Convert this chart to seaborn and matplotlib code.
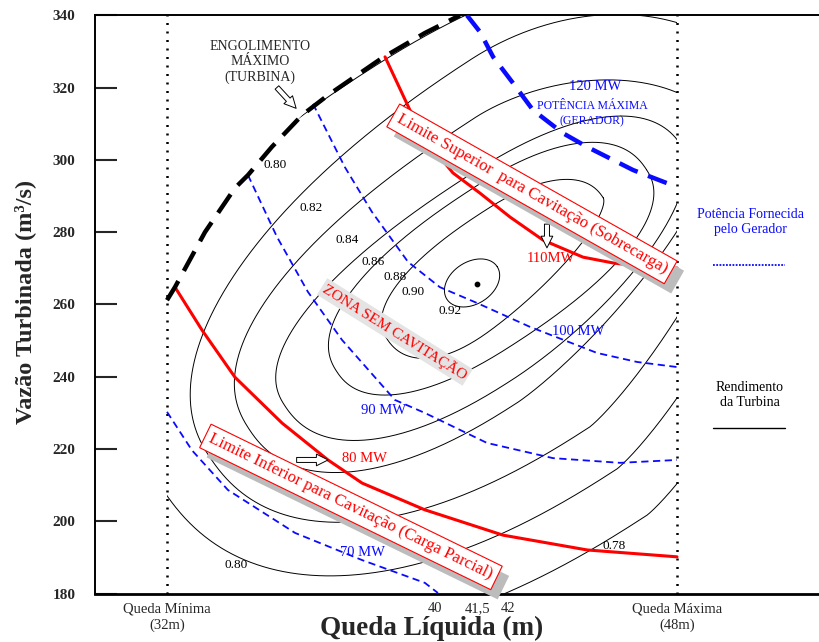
import numpy as np
import pandas as pd
import matplotlib
matplotlib.use("Agg")
import matplotlib.pyplot as plt
import matplotlib.patheffects as pe
from matplotlib.patches import Polygon
import seaborn as sns

sns.set_theme(style="white")
plt.rcParams["font.family"] = ["Liberation Serif", "DejaVu Serif"]

# ---------------- data (Queda H in m, Vazao Q in m3/s) ----------------
ENGOL_H = [32.00, 32.25, 33.19, 34.13, 34.54, 35.29, 36.24, 37.05, 38.75, 40.09, 41.19]
ENGOL_Q = [261.2, 264.8, 280.0, 292.2, 295.8, 303.6, 312.4, 317.9, 328.2, 335.1, 340.0]

P120_H = [41.41, 41.82, 42.23, 42.85, 43.48, 44.42, 45.18, 46.62, 48.0]
P120_Q = [340.0, 335.4, 328.5, 321.3, 313.8, 307.4, 303.6, 297.2, 292.5]

P100_H = [36.58, 37.58, 38.43, 39.56, 40.56, 41.73, 43.39, 45.49, 46.75, 48.0]
P100_Q = [315.5, 298.0, 285.6, 271.8, 264.8, 260.4, 253.8, 246.6, 244.1, 242.7]

P90_H = [34.54, 35.45, 36.42, 37.49, 39.15, 40.09, 42.04, 44.11, 46.21, 48.0]
P90_Q = [295.8, 278.7, 263.5, 250.2, 233.6, 230.0, 221.7, 217.5, 216.2, 217.0]

P70_H = [32.0, 32.78, 33.91, 36.02, 38.12, 40.09, 40.50]
P70_Q = [230.3, 219.7, 208.7, 196.8, 189.3, 183.0, 180.2]

LIM_INF_H = [32.25, 33.10, 34.13, 35.61, 37.05, 38.12, 40.09, 42.54, 45.18, 48.0]
LIM_INF_Q = [264.8, 252.9, 239.9, 227.2, 217.0, 210.6, 203.2, 196.2, 192.1, 190.2]

LIM_SUP_H = [38.84, 39.62, 40.25, 40.97, 41.82, 42.76, 43.80, 45.05, 45.99, 46.99, 48.0]
LIM_SUP_Q = [328.5, 313.8, 304.1, 296.4, 290.8, 284.2, 277.8, 273.1, 271.5, 270.4, 270.1]

# efficiency iso-lines (rotated egg shapes): centre, half-lengths (m-equivalent), exponents
ETA_LEVELS = [0.92, 0.90, 0.88, 0.86, 0.84, 0.82, 0.80, 0.78]
ETA_HC = [41.57, 42.29, 42.18, 41.92, 41.92, 42.10, 42.10, 42.10]
ETA_QC = [265.96, 270.04, 269.43, 267.94, 267.94, 269.0, 269.0, 269.0]
ETA_A = [0.94, 4.05, 5.80, 7.44, 8.78, 10.51, 12.30, 14.43]
ETA_BUP = [0.66, 1.69, 2.48, 2.89, 4.30, 5.90, 7.37, 9.10]
ETA_BLO = [0.66, 1.57, 2.32, 3.23, 3.92, 5.80, 7.37, 9.10]
ETA_U0 = [0.0, 0.63, 0.85, 1.25, 2.51, 3.14, 0.0, 0.0]
ETA_L0 = [0.0, -1.57, -0.63, -0.94, -1.25, 0.0, 0.0, 0.0]
ETA_PUL = [2.0, 2.3, 2.3, 2.3, 2.3, 2.15, 2.3, 2.3]
ETA_PUR = [2.0, 2.3, 2.3, 2.3, 1.8, 2.0, 2.3, 2.3]
ETA_PLL = [2.0, 2.3, 2.3, 2.3, 2.3, 2.3, 2.3, 2.3]
ETA_PLR = [2.0, 1.6, 2.3, 1.8, 1.5, 1.3, 1.3, 1.3]
ETA_ANGLE = 33.0

ETA_LABELS = ["0.80", "0.82", "0.84", "0.86", "0.88", "0.90", "0.92", "0.80", "0.78"]
ETA_LAB_H = [35.39, 36.52, 37.65, 38.46, 39.15, 39.72, 40.88, 34.16, 46.02]
ETA_LAB_Q = [298.6, 286.7, 277.8, 271.75, 267.7, 263.46, 258.2, 187.9, 193.2]

OPT_H, OPT_Q = 41.73, 265.67
H_MIN, H_MAX = 32.0, 48.0

XTICK_POS = [32.0, 40.41, 41.73, 42.70, 48.0]
XTICK_LABELS = ["Queda Mínima\n(32m)", "40", "41,5", "42", "Queda Máxima\n(48m)"]
YTICKS = [180, 200, 220, 240, 260, 280, 300, 320, 340]

# ---------------- figure ----------------
W, H = 820, 642
fig = plt.figure(figsize=(W / 100, H / 100), dpi=100)
ax = fig.add_axes([95 / W, 1 - 593.7 / H, (W - 95) / W, (593.7 - 15.3) / H])
ax.set_xlim(29.741, 52.486)
ax.set_ylim(180, 340)
S = (725 / 22.745) / (578.4 / 160)  # Q units per m for isotropic shapes

BLUE = "#0a0aff"
RED = "#ff0000"

clip_verts = [(H_MIN, 180)] + list(zip(ENGOL_H, ENGOL_Q)) + [(H_MAX, 340), (H_MAX, 180)]
clip_poly = Polygon(clip_verts, closed=True, transform=ax.transData)


def egg(i, ang):
    t = np.linspace(0, 2 * np.pi, 1441)
    c, s = np.cos(t), np.sin(t)
    upper = s < 0
    pq = np.where(upper, np.where(c < 0, ETA_PUL[i], ETA_PUR[i]),
                  np.where(c < 0, ETA_PLL[i], ETA_PLR[i]))
    b = np.where(upper, ETA_BUP[i], ETA_BLO[i])
    base = np.where(upper, ETA_U0[i], ETA_L0[i])
    a = ETA_A[i]
    half = np.where(c < 0, a + base, a - base)
    u = base + half * np.sign(c) * np.abs(c) ** (2 / pq)
    v = b * np.sign(s) * np.abs(s) ** (2 / pq)
    th = np.radians(ang)
    hh = ETA_HC[i] + u * np.cos(th) + v * np.sin(th)
    yy = ETA_QC[i] / S + u * np.sin(th) - v * np.cos(th)
    return hh, yy * S


for i in range(len(ETA_LEVELS)):
    hh, qq = egg(i, ETA_ANGLE)
    ln, = ax.plot(hh, qq, color="black", lw=0.7, zorder=2)
    ln.set_clip_path(clip_poly)

for txt, h, q in zip(ETA_LABELS, ETA_LAB_H, ETA_LAB_Q):
    ax.text(h, q, txt, fontsize=9.5, ha="center", va="center", color="black", zorder=6)

ax.scatter([OPT_H], [OPT_Q], s=10, color="black", zorder=6)

# power curves (blue dashed)
curves = pd.DataFrame({
    "H": P100_H + P90_H + P70_H,
    "Q": P100_Q + P90_Q + P70_Q,
    "curve": ["100"] * len(P100_H) + ["90"] * len(P90_H) + ["70"] * len(P70_H),
})
for name in ["100", "90", "70"]:
    sub = curves[curves["curve"] == name]
    sns.lineplot(data=sub, x="H", y="Q", sort=False, estimator=None, ax=ax,
                 color=BLUE, lw=1.3, zorder=3)
    ax.lines[-1].set_dashes((4, 2.5))

sns.lineplot(x=P120_H, y=P120_Q, sort=False, estimator=None, ax=ax, color=BLUE, lw=3.2, zorder=3)
ax.lines[-1].set_dashes((4.5, 2.5))

# cavitation limits (red)
sns.lineplot(x=LIM_INF_H, y=LIM_INF_Q, sort=False, estimator=None, ax=ax, color=RED, lw=2.2, zorder=4)
sns.lineplot(x=LIM_SUP_H, y=LIM_SUP_Q, sort=False, estimator=None, ax=ax, color=RED, lw=2.2, zorder=4)

# maximum swallowing (black dashed)
sns.lineplot(x=ENGOL_H, y=ENGOL_Q, sort=False, estimator=None, ax=ax, color="black", lw=3.2, zorder=5)
ax.lines[-1].set_dashes((5, 2.6))

# head limits (dotted)
for hx in (H_MIN, H_MAX):
    ax.axvline(hx, color="black", lw=1.8, ls=(0, (0.8, 2.6)), zorder=2)

# ---------------- annotations ----------------
arrow_kw = dict(arrowstyle="simple,head_length=0.7,head_width=0.7,tail_width=0.3",
                fc="white", ec="black", lw=0.7)
ax.text(34.92, 327.1, "ENGOLIMENTO\nMÁXIMO\n(TURBINA)", fontsize=10, ha="center", va="center",
        linespacing=1.2, zorder=6)
ax.annotate("", xy=(36.11, 313.7), xytext=(35.39, 320.6), arrowprops=arrow_kw, zorder=6)

ax.text(45.43, 320.2, "120 MW", fontsize=10.5, ha="center", va="center", color=BLUE, zorder=6)
ax.text(45.33, 312.9, "POTÊNCIA MÁXIMA\n(GERADOR)", fontsize=8.5, ha="center", va="center",
        color=BLUE, linespacing=1.35, zorder=6)

ax.text(44.05, 272.6, "110MW", fontsize=10.5, ha="center", va="center", color=RED, zorder=6)
ax.annotate("", xy=(43.92, 274.9), xytext=(43.92, 283.0), arrowprops=arrow_kw, zorder=6)

ax.text(38.18, 217.4, "80 MW", fontsize=10.5, ha="center", va="center", color=RED, zorder=6)
ax.annotate("", xy=(37.14, 217.0), xytext=(35.98, 217.0), arrowprops=arrow_kw, zorder=6)

ax.text(38.78, 230.8, "90 MW", fontsize=10.5, ha="center", va="center", color=BLUE, zorder=6)
ax.text(44.90, 252.4, "100 MW", fontsize=10.5, ha="center", va="center", color=BLUE, zorder=6)
ax.text(38.12, 191.3, "70 MW", fontsize=10.5, ha="center", va="center", color=BLUE, zorder=6)

shadow = [pe.withSimplePatchShadow(offset=(5, -7), shadow_rgbFace="#bcbcbc", alpha=1.0)]
t1 = ax.text(43.45, 290.6, "Limite Superior  para Cavitação (Sobrecarga)", rotation=-29.5,
             rotation_mode="anchor", ha="center", va="center", color=RED, fontsize=12.2, zorder=8,
             bbox=dict(boxstyle="square,pad=0.3", fc="white", ec=RED, lw=0.8))
t1.get_bbox_patch().set_path_effects(shadow)
t2 = ax.text(37.77, 204.0, "Limite Inferior para Cavitação (Carga Parcial)", rotation=-26,
             rotation_mode="anchor", ha="center", va="center", color=RED, fontsize=12.2, zorder=8,
             bbox=dict(boxstyle="square,pad=0.3", fc="white", ec=RED, lw=0.8))
t2.get_bbox_patch().set_path_effects(shadow)
ax.text(39.15, 252.4, "ZONA SEM CAVITAÇÃO", rotation=-32, rotation_mode="anchor", ha="center",
        va="center", color=RED, fontsize=11, zorder=7,
        bbox=dict(boxstyle="square,pad=0.15", fc="#e4e4e4", ec="none"))

# legend-like notes on the right
ax.text(50.29, 282.8, "Potência Fornecida\npelo Gerador", fontsize=10, ha="center", va="center",
        color=BLUE, linespacing=1.15, zorder=6)
ax.plot([49.13, 51.39], [270.9, 270.9], color=BLUE, lw=1.3, ls=(0, (1, 0.8)), zorder=6)
ax.text(50.29, 235.0, "Rendimento\nda Turbina", fontsize=10, ha="center", va="center",
        color="black", linespacing=1.15, zorder=6)
ax.plot([49.13, 51.39], [225.9, 225.9], color="black", lw=1.0, zorder=6)

# ---------------- axes styling ----------------
ax.set_xticks(XTICK_POS)
ax.set_xticklabels(XTICK_LABELS, fontsize=10.5, linespacing=1.3)
ax.set_yticks(YTICKS)
ax.set_yticklabels([str(v) for v in YTICKS], fontsize=11, fontweight="bold")
ax.tick_params(axis="x", length=0, pad=6)
ax.tick_params(axis="y", direction="in", length=16, width=1.5, pad=14, left=True)
ax.spines["right"].set_visible(False)
for sp in ("left", "top"):
    ax.spines[sp].set_linewidth(1.4)
    ax.spines[sp].set_color("black")
ax.spines["bottom"].set_linewidth(2.0)
ax.spines["bottom"].set_color("black")
ax.set_xlabel("")
ax.set_ylabel("")
ax.grid(False)

fig.text(25 / W, 1 - 302 / H, "Vazão Turbinada (m³/s)", rotation=90, ha="center", va="center",
         fontsize=17.5, fontweight="bold")
fig.text(432 / W, 1 - 628 / H, "Queda Líquida (m)", ha="center", va="center",
         fontsize=19.5, fontweight="bold")

fig.savefig("out.png", dpi=100)
